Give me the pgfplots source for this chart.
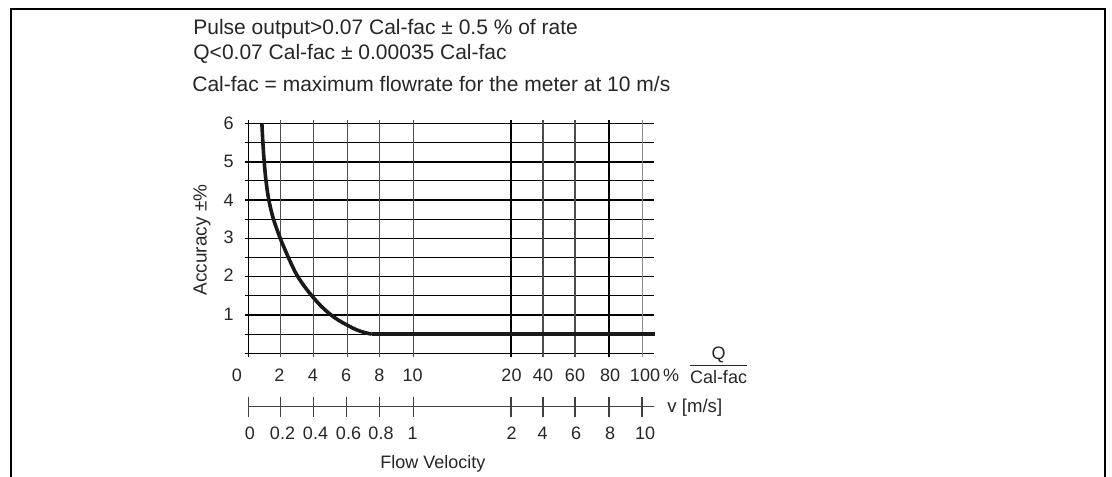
\documentclass[border=0pt]{standalone}
\usepackage{fontspec}
\setmainfont{Liberation Sans}
\usepackage{pgfplots}
\pgfplotsset{compat=1.18}
\definecolor{txt}{gray}{0.15}
\begin{document}
\begin{tikzpicture}
\path[use as bounding box] (0,0) rectangle (556pt,-238pt);
\begin{axis}[
  scale only axis, width=202.75pt, height=115pt,
  at={(124.15pt,-176.65pt)}, anchor=south west,
  xmin=0, xmax=24.5, ymin=0, ymax=6,
  hide axis, clip=false]
% horizontal grid
\pgfplotsinvokeforeach{0,0.5,1,1.5,2,2.5,3,3.5,4,4.5,5.5,6}{
  \draw[black, line width=0.55pt] (axis cs:-0.22,#1) -- (axis cs:24.5,#1);
}
\draw[black, line width=1.1pt] (axis cs:-0.22,5) -- (axis cs:24.5,5);
% vertical grid
\draw[black, line width=0.6pt] (axis cs:0,-0.09) -- (axis cs:0,6.09);
\pgfplotsinvokeforeach{1.94,3.95,5.97,7.94,9.97,17.8,19.74}{
  \draw[black!70, line width=0.6pt] (axis cs:#1,-0.09) -- (axis cs:#1,6.09);
}
\pgfplotsinvokeforeach{15.87,21.8}{
  \draw[black, line width=0.8pt] (axis cs:#1,-0.09) -- (axis cs:#1,6.09);
}
\draw[black!45, line width=0.6pt] (axis cs:23.8,-0.09) -- (axis cs:23.8,6.09);
% accuracy curve
\addplot[black!90, line width=1.8pt, smooth, tension=0.6] coordinates {
 (0.82,6) (0.88,5.5) (0.96,5.0) (1.07,4.5) (1.24,4.0) (1.52,3.5) (1.93,3.0)
 (2.2,2.72) (2.45,2.47) (2.7,2.24) (2.95,2.03) (3.4,1.74) (3.9,1.47)
 (4.4,1.23) (5.0,1.0) (5.5,0.85) (6.0,0.73) (6.5,0.62) (7.0,0.545) (7.45,0.5)};
\addplot[black!90, line width=1.8pt] coordinates {(7.45,0.5) (24.6,0.5)};
\end{axis}
\begin{scope}[x=0.5pt,y=-0.5pt, every node/.style={text=txt, inner sep=0pt}]
% frame
\draw[line width=1pt] (11,480) -- (11,9) -- (1105.3,9) -- (1105.3,480);
% titles
\node[anchor=base west, font=\fontsize{10.5pt}{12pt}\selectfont] at (193,35) {Pulse output>0.07 Cal-fac ± 0.5 \% of rate};
\node[anchor=base west, font=\fontsize{10.5pt}{12pt}\selectfont] at (193,59.5) {Q<0.07 Cal-fac ± 0.00035 Cal-fac};
\node[anchor=base west, font=\fontsize{10.5pt}{12pt}\selectfont] at (192,91.7) {Cal-fac = maximum flowrate for the meter at 10 m/s};
% y tick labels
\begin{scope}[every node/.append style={anchor=east, font=\fontsize{9pt}{10pt}\selectfont}]
\node at (234,123.3) {6};
\node at (234,161.7) {5};
\node at (234,200) {4};
\node at (234,237.3) {3};
\node at (234,275.7) {2};
\node at (234,314) {1};
\end{scope}
\node[rotate=90, font=\fontsize{9.5pt}{11pt}\selectfont] at (202,240) {Accuracy ±\%};
% % row
\begin{scope}[every node/.append style={font=\fontsize{9pt}{10pt}\selectfont}]
\node at (237,375) {0};
\node at (279.5,375) {2};
\node at (312.8,375) {4};
\node at (346.2,375) {6};
\node at (379.3,375) {8};
\node at (412.7,375) {10};
\node at (511.5,375) {20};
\node at (543,375) {40};
\node at (575,375) {60};
\node at (610,375) {80};
\node at (645,375) {100};
\node at (671,375) {\%};
% velocity labels
\node at (250,433.3) {0};
\node at (282.5,433.3) {0.2};
\node at (315.5,433.3) {0.4};
\node at (348.5,433.3) {0.6};
\node at (381,433.3) {0.8};
\node at (412.5,433.3) {1};
\node at (511.5,433.3) {2};
\node at (542.5,433.3) {4};
\node at (576,433.3) {6};
\node at (610,433.3) {8};
\node at (645,433.3) {10};
\end{scope}
% fraction
\node[font=\fontsize{9pt}{11pt}\selectfont] at (718.5,355) {Q};
\draw[txt, line width=0.5pt] (690,365) -- (747,365);
\node[font=\fontsize{9pt}{11pt}\selectfont] at (718.5,377) {Cal-fac};
% velocity axis
\draw[black!75, line width=0.55pt] (248.3,406.3) -- (653.5,406.3);
\foreach \xx in {248.3,280.4,313.6,346.9,379.7,413.3,511,543,575,609,642}{
  \draw[black!75, line width=0.55pt] (\xx,396.7) -- (\xx,416.7);
}
\node[anchor=west, font=\fontsize{9.3pt}{11pt}\selectfont] at (667,408) {v [m/s]};
\node[anchor=west, font=\fontsize{9pt}{11pt}\selectfont] at (380,463.5) {Flow Velocity};
\end{scope}
\end{tikzpicture}
\end{document}
